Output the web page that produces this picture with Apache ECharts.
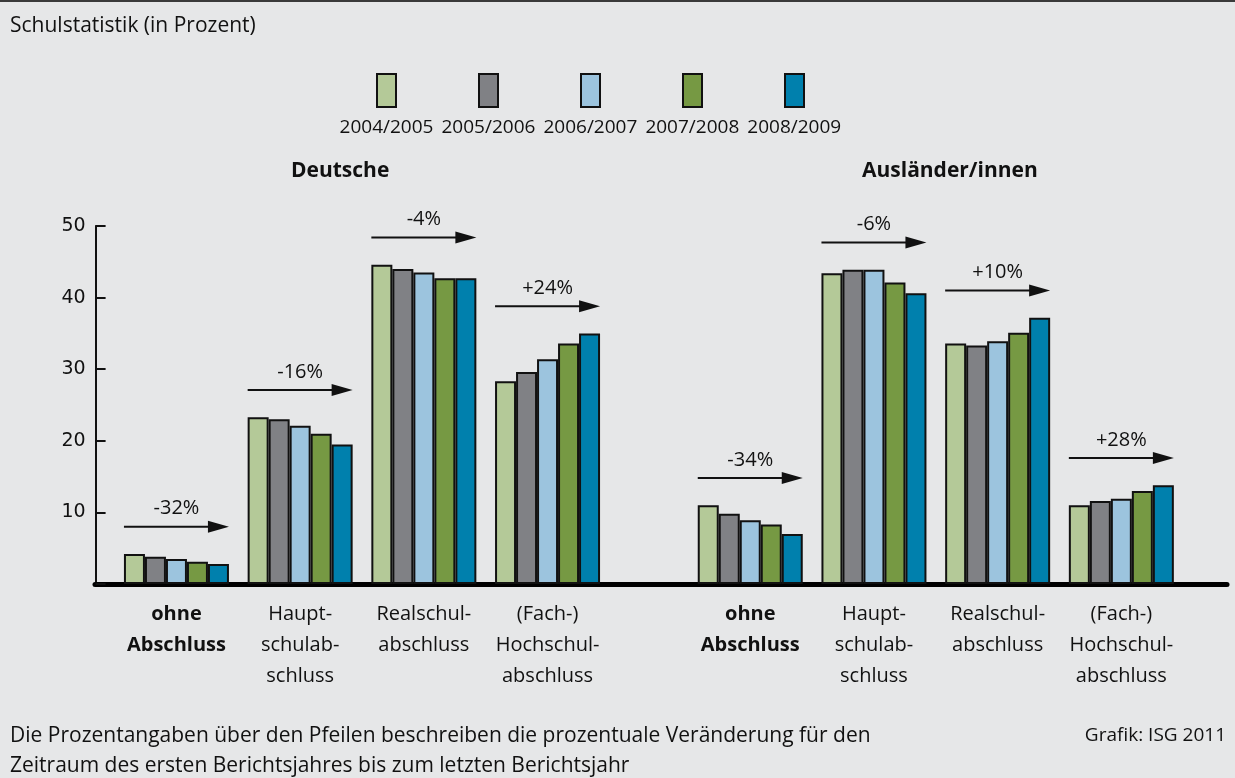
<!DOCTYPE html>
<html>
<head>
<meta charset="utf-8">
<script src="https://cdn.jsdelivr.net/npm/echarts@6/dist/echarts.min.js"></script>
<style>
  html, body { margin: 0; padding: 0; background: #e6e7e8; }
  #container { width: 1235px; height: 778px; }
  #topline { position: absolute; left: 0; top: 0; width: 1235px; height: 2px; background: #3a3a3a; z-index: 5; }
</style>
</head>
<body>
<div id="topline"></div>
<div id="container"></div>
<script>
// Schuljahre (Legende)
var years = ['2004/2005', '2005/2006', '2006/2007', '2007/2008', '2008/2009'];
var colors = ['#b4c998', '#808185', '#9cc4de', '#769943', '#0080ad'];

// Abschlussarten
var abschluesse = [
  'ohne\nAbschluss',
  'Haupt-\nschulab-\nschluss',
  'Realschul-\nabschluss',
  '(Fach-)\nHochschul-\nabschluss'
];

// je Abschluss: Werte fuer die 5 Schuljahre
var deutsche = [
  [4.2, 3.8, 3.5, 3.1, 2.8],
  [23.3, 23.0, 22.1, 21.0, 19.5],
  [44.6, 44.0, 43.5, 42.7, 42.7],
  [28.3, 29.6, 31.4, 33.6, 35.0]
];
var auslaender = [
  [11.0, 9.8, 8.9, 8.3, 7.0],
  [43.4, 43.9, 43.9, 42.1, 40.6],
  [33.6, 33.3, 33.9, 35.1, 37.2],
  [11.0, 11.6, 11.9, 13.0, 13.8]
];

// Veraenderung erstes -> letztes Berichtsjahr
var deutscheChange = ['-32%', '-16%', '-4%', '+24%'];
var auslaenderChange = ['-34%', '-6%', '+10%', '+28%'];

var yTicks = [0, 10, 20, 30, 40, 50];

var FONT = "'Open Sans', 'Noto Sans', sans-serif";
var INK = '#111111';
var BAR_W = 21;

var dom = document.getElementById('container');
var myChart = echarts.init(dom, null, { renderer: 'canvas' });

function barSeries(table, gridIdx) {
  return years.map(function (y, i) {
    return {
      type: 'bar',
      name: y,
      xAxisIndex: gridIdx,
      yAxisIndex: gridIdx,
      data: table.map(function (row) { return row[i]; }),
      barWidth: BAR_W,
      barGap: '0%',
      itemStyle: { color: colors[i], borderColor: INK, borderWidth: 2 },
      emphasis: { disabled: true }
    };
  });
}

function arrowSeries(table, changes, gridIdx) {
  return {
    type: 'custom',
    xAxisIndex: gridIdx,
    yAxisIndex: gridIdx,
    clip: false,
    z: 10,
    silent: true,
    data: table.map(function (row, k) {
      return [k, Math.max.apply(null, row) + 3.8];
    }),
    renderItem: function (params, api) {
      var p = api.coord([api.value(0), api.value(1)]);
      var half = BAR_W * years.length / 2;
      var x0 = p[0] - half, x1 = p[0] + half, y = p[1];
      return {
        type: 'group',
        children: [
          { type: 'line', shape: { x1: x0, y1: y, x2: x1 - 18, y2: y },
            style: { stroke: INK, lineWidth: 2 } },
          { type: 'polygon', shape: { points: [[x1 - 21, y - 6], [x1, y], [x1 - 21, y + 6]] },
            style: { fill: INK } },
          { type: 'text', x: p[0], y: y - 18,
            style: { text: changes[params.dataIndex], fill: INK, font: '20px ' + FONT,
              align: 'center', verticalAlign: 'middle' } }
        ]
      };
    }
  };
}

function catAxis(gridIdx) {
  return {
    type: 'category',
    gridIndex: gridIdx,
    data: abschluesse,
    axisLine: { show: false },
    axisTick: { show: false },
    axisLabel: {
      interval: 0,
      margin: 15,
      color: INK,
      fontFamily: FONT,
      fontSize: 20,
      lineHeight: 31,
      formatter: function (v, idx) {
        if (idx === 0) {
          return v.split('\n').map(function (s) { return '{b|' + s + '}'; }).join('\n');
        }
        return v;
      },
      rich: {
        b: { fontWeight: 'bold', fontFamily: FONT, fontSize: 20, lineHeight: 31, color: INK }
      }
    }
  };
}

var option = {
  backgroundColor: '#e6e7e8',
  animation: false,
  textStyle: { fontFamily: FONT },
  title: [
    { text: 'Schulstatistik (in Prozent)', left: 10, top: 16, padding: 0,
      textStyle: { fontFamily: FONT, fontSize: 21, fontWeight: 'normal', color: INK } },
    { text: 'Deutsche', left: 291, top: 161, padding: 0,
      textStyle: { fontFamily: FONT, fontSize: 21, fontWeight: 'bold', color: INK } },
    { text: 'Ausländer/innen', left: 862, top: 161, padding: 0,
      textStyle: { fontFamily: FONT, fontSize: 21, fontWeight: 'bold', color: INK } },
    { text: 'Die Prozentangaben über den Pfeilen beschreiben die prozentuale Veränderung für den\nZeitraum des ersten Berichtsjahres bis zum letzten Berichtsjahr',
      left: 10, top: 721, padding: 0,
      textStyle: { fontFamily: FONT, fontSize: 21, fontWeight: 'normal', color: INK, lineHeight: 30 } },
    { text: 'Grafik: ISG 2011', right: 9, top: 721, padding: 0,
      textStyle: { fontFamily: FONT, fontSize: 19, fontWeight: 'normal', color: INK, lineHeight: 29 } }
  ],
  legend: [
    {
      data: years,
      left: 376,
      top: 73,
      padding: 0,
      itemWidth: 19,
      itemHeight: 33,
      itemGap: 81,
      icon: 'rect',
      itemStyle: { borderColor: INK, borderWidth: 2 },
      formatter: function () { return ''; }
    },
    {
      data: years,
      left: 333,
      top: 118,
      padding: 0,
      itemWidth: 0,
      itemHeight: 20,
      itemGap: 1.5,
      icon: 'none',
      formatter: function (name) { return '{t|' + name + '}'; },
      textStyle: {
        rich: { t: { width: 97, align: 'center', fontFamily: FONT, fontSize: 19, color: INK } }
      }
    }
  ],
  grid: [
    { left: 114.6, width: 494.8, top: 226, bottom: 194 },
    { left: 688.4, width: 494.8, top: 226, bottom: 194 },
    { left: 95, right: 8, top: 226, bottom: 194 }
  ],
  xAxis: [
    catAxis(0),
    catAxis(1),
    {
      type: 'value', gridIndex: 2, min: 0, max: 1,
      axisLine: { show: true, onZero: false, lineStyle: { color: '#000', width: 5 } },
      axisTick: { show: false }, axisLabel: { show: false }, splitLine: { show: false }
    }
  ],
  yAxis: [
    {
      type: 'value', gridIndex: 0,
      min: yTicks[0], max: yTicks[yTicks.length - 1], interval: 10,
      offset: 19,
      axisLine: { show: true, lineStyle: { color: INK, width: 2 } },
      axisTick: { show: true, inside: true, length: 10, lineStyle: { color: INK, width: 2 } },
      axisLabel: {
        margin: 10, color: INK, fontFamily: "'DejaVu Sans', sans-serif", fontSize: 19,
        formatter: function (v) { return v === 0 ? '' : String(v); }
      },
      splitLine: { show: false }
    },
    { type: 'value', gridIndex: 1, min: yTicks[0], max: yTicks[yTicks.length - 1], interval: 10, show: false },
    { type: 'value', gridIndex: 2, min: yTicks[0], max: yTicks[yTicks.length - 1], show: false }
  ],
  series: []
    .concat(barSeries(deutsche, 0))
    .concat(barSeries(auslaender, 1))
    .concat([arrowSeries(deutsche, deutscheChange, 0), arrowSeries(auslaender, auslaenderChange, 1)])
};

myChart.setOption(option);
</script>
</body>
</html>
